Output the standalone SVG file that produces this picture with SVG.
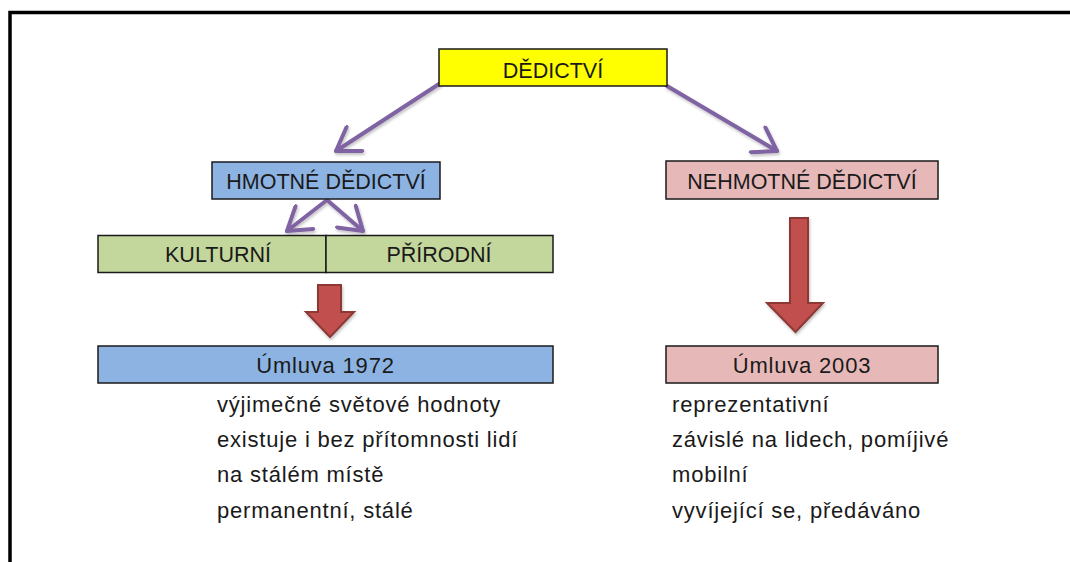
<svg xmlns="http://www.w3.org/2000/svg" width="1070" height="562" viewBox="0 0 1070 562">
<defs>
<marker id="chev" viewBox="0 0 8 8" refX="6.3" refY="4" markerWidth="8" markerHeight="8" markerUnits="strokeWidth" orient="auto">
<path d="M0.8,0.4 L6.3,4 L0.8,7.6" fill="none" stroke="#8064A2" stroke-width="1" stroke-linecap="round" stroke-linejoin="round"/>
</marker>
<filter id="sh" x="-20%" y="-20%" width="140%" height="140%">
<feGaussianBlur in="SourceAlpha" stdDeviation="1.5"/>
<feOffset dx="1" dy="2" result="b"/>
<feComponentTransfer><feFuncA type="linear" slope="0.25"/></feComponentTransfer>
<feMerge><feMergeNode/><feMergeNode in="SourceGraphic"/></feMerge>
</filter>
</defs>
<style>
.box{stroke:#1a1a1a;stroke-width:1.5}
.cap{font-family:"Liberation Sans",Arial,sans-serif;font-size:21.5px;fill:#1a1a1a;text-anchor:middle}
.txt{font-family:"Liberation Sans",Arial,sans-serif;font-size:22px;letter-spacing:0.8px;fill:#1a1a1a}
.mid{text-anchor:middle}
.conn{stroke:#8064A2;stroke-width:4;fill:none;stroke-linecap:round;marker-end:url(#chev)}
.blk{fill:#C0504D;stroke:#8C3836;stroke-width:2;stroke-linejoin:miter}
</style>
<rect x="0" y="0" width="1070" height="562" fill="#ffffff"/>
<path d="M10,562 V12.5 H1070" fill="none" stroke="#000" stroke-width="3.5"/>

<g id="connectors" filter="url(#sh)">
<path class="conn" d="M439,84 L336,151"/>
<path class="conn" d="M667,86 L777,151"/>
<path class="conn" d="M327,200 L287,231"/>
<path class="conn" d="M327,200 L363,231"/>
<path class="blk" d="M318,285 H341 V312 H354 L330,337 L306,312 H318 Z"/>
<path class="blk" d="M790,218 H808 V303 H823 L795.5,332 L767,303 H790 Z"/>
</g>

<g id="n-dedictvi">
<rect class="box" x="439" y="49" width="228" height="37" fill="#FFFF00"/>
<text class="cap" x="553" y="78">DĚDICTVÍ</text>
</g>
<g id="n-hmotne">
<rect class="box" x="212" y="162" width="228" height="37" fill="#8DB3E2"/>
<text class="cap" x="326" y="189">HMOTNÉ DĚDICTVÍ</text>
</g>
<g id="n-nehmotne">
<rect class="box" x="666" y="161" width="272" height="38" fill="#E6B9B8"/>
<text class="cap" x="802" y="189">NEHMOTNÉ DĚDICTVÍ</text>
</g>
<g id="n-kulturni">
<rect class="box" x="98" y="235.5" width="228" height="37" fill="#C3D69B"/>
<text class="cap" x="218" y="262">KULTURNÍ</text>
</g>
<g id="n-prirodni">
<rect class="box" x="326" y="235.5" width="227" height="37" fill="#C3D69B"/>
<text class="cap" x="439" y="262">PŘÍRODNÍ</text>
</g>
<g id="n-umluva1972">
<rect class="box" x="98" y="346" width="455" height="37" fill="#8DB3E2"/>
<text class="txt mid" x="325.5" y="373">Úmluva 1972</text>
<text class="txt" x="217" y="412">výjimečné světové hodnoty</text>
<text class="txt" x="217" y="447">existuje i bez přítomnosti lidí</text>
<text class="txt" x="217" y="482">na stálém místě</text>
<text class="txt" x="217" y="518">permanentní, stálé</text>
</g>
<g id="n-umluva2003">
<rect class="box" x="666" y="346" width="272" height="37" fill="#E6B9B8"/>
<text class="txt mid" x="802" y="373">Úmluva 2003</text>
<text class="txt" x="672" y="412">reprezentativní</text>
<text class="txt" x="672" y="447">závislé na lidech, pomíjivé</text>
<text class="txt" x="672" y="482">mobilní</text>
<text class="txt" x="672" y="518">vyvíjející se, předáváno</text>
</g>
</svg>
